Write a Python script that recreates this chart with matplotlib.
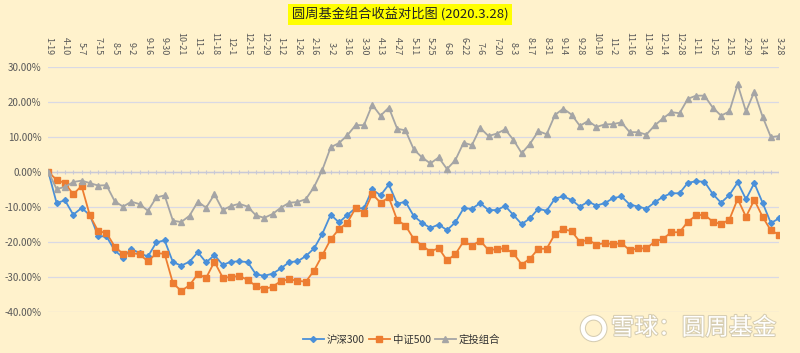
import matplotlib.pyplot as plt
import matplotlib.patheffects as pe
from matplotlib.patches import Ellipse

plt.rcParams['font.family'] = ['Noto Sans CJK SC', 'DejaVu Sans']

# 日期标签 (每两个点标一次)
dates = ['1-19', '4-10', '5-7', '7-15', '8-5', '9-2', '9-16', '9-30', '10-21', '11-3',
         '11-18', '12-1', '12-15', '12-29', '1-12', '1-26', '2-16', '3-2', '3-16', '3-30',
         '4-13', '4-27', '5-11', '5-25', '6-8', '6-22', '7-6', '7-20', '8-3', '8-17',
         '8-31', '9-14', '9-28', '10-19', '11-2', '11-16', '11-30', '12-14', '12-28', '1-11',
         '1-25', '2-15', '2-29', '3-14', '3-28']

# 收益 (%)
hs300 = [0, -8.9, -8.1, -12.2, -10.3, -12.3, -18.3, -18.4, -22.4, -24.4,
         -21.9, -23.2, -24.1, -20.1, -19.5, -25.7, -26.7, -25.6, -22.9, -25.8,
         -23.7, -26.5, -25.6, -25.5, -25.7, -29.2, -29.6, -29.0, -27.5, -25.7,
         -25.5, -24.0, -21.8, -17.6, -12.2, -14.4, -12.3, -10.3, -10.4, -5.0,
         -6.7, -3.6, -9.1, -8.5, -12.6, -14.5, -16.0, -15.0, -16.6, -14.4,
         -10.4, -10.5, -8.9, -10.9, -10.9, -9.7, -12.3, -14.9, -13.2, -10.5,
         -11.1, -7.6, -7.0, -8.0, -9.9, -8.5, -9.6, -8.9, -7.5, -7.0,
         -9.3, -9.9, -10.5, -8.7, -7.1, -6.1, -6.1, -3.1, -2.7, -2.8,
         -6.3, -8.8, -6.6, -3.0, -7.8, -3.2, -8.8, -14.6, -13.2]

zz500 = [0, -2.3, -3.2, -6.4, -4.0, -12.4, -16.9, -17.4, -21.3, -23.4,
         -23.1, -23.5, -25.5, -23.2, -23.3, -31.7, -33.9, -32.3, -29.1, -30.2,
         -25.6, -30.1, -30.0, -29.6, -30.8, -32.5, -33.4, -32.7, -31.1, -30.6,
         -31.0, -31.3, -28.1, -23.7, -19.2, -16.3, -14.5, -10.3, -11.6, -6.3,
         -8.8, -7.3, -13.7, -15.3, -19.1, -21.0, -22.7, -21.7, -25.2, -23.5,
         -19.8, -21.0, -19.6, -22.3, -22.0, -21.8, -23.2, -26.4, -24.7, -21.9,
         -21.9, -17.7, -16.3, -16.9, -19.9, -19.4, -20.7, -20.3, -20.6, -20.3,
         -22.3, -21.8, -21.8, -19.9, -19.1, -17.2, -17.2, -14.2, -12.4, -12.2,
         -14.2, -14.9, -13.6, -7.7, -12.8, -8.0, -12.8, -16.7, -17.9]

dingtou = [0, -4.9, -4.3, -2.9, -2.5, -3.2, -3.9, -3.8, -8.4, -9.9,
           -8.5, -9.2, -11.1, -7.3, -6.7, -13.9, -14.3, -12.5, -8.5, -10.2,
           -6.4, -10.9, -9.7, -9.1, -9.9, -12.4, -13.1, -12.0, -10.2, -8.8,
           -8.6, -7.8, -4.3, 0.6, 7.0, 8.2, 10.4, 13.3, 13.3, 19.1,
           16.0, 18.3, 12.3, 11.8, 6.4, 4.1, 2.4, 4.1, 0.8, 3.3,
           8.3, 7.6, 12.5, 10.2, 10.9, 12.1, 9.1, 5.3, 8.0, 11.6,
           10.7, 16.2, 18.0, 16.3, 13.1, 14.5, 12.8, 13.5, 13.6, 14.1,
           11.3, 11.3, 10.6, 13.2, 15.2, 17.0, 16.7, 20.8, 21.7, 21.7,
           18.3, 16.0, 17.2, 24.9, 17.2, 22.8, 15.7, 9.9, 10.2]

x = list(range(len(hs300)))
bg = '#fff2cc'
grid_c = '#d9d9e4'
txt_c = '#595959'

fig = plt.figure(figsize=(8, 3.53), dpi=100, facecolor=bg)
ax = fig.add_axes([0.0604, 0.1153, 0.9136, 0.6963])
ax.set_facecolor(bg)

ax.plot(x, hs300, color='#4a90d9', lw=1.3, marker='D', ms=3, label='沪深300', zorder=3)
ax.plot(x, zz500, color='#ed7d31', lw=1.3, marker='s', ms=4, label='中证500', zorder=3)
ax.plot(x, dingtou, color='#a5a5a5', lw=1.3, marker='^', ms=4, label='定投组合', zorder=3)

# 坐标轴
ax.set_xlim(0, len(x) - 1)
ax.set_ylim(-40, 30)
ax.set_yticks(range(-40, 31, 10))
ax.set_yticklabels(['%.2f%%' % v for v in range(-40, 31, 10)], fontsize=7, color=txt_c)
ax.yaxis.grid(True, color=grid_c, lw=0.9)
ax.set_axisbelow(True)
ax.tick_params(axis='y', length=0, pad=5)

ax.xaxis.tick_top()
ax.set_xticks(x[::2])
ax.set_xticklabels(dates, rotation=270, fontsize=6.5, color=txt_c, va='bottom')
ax.tick_params(axis='x', length=0, pad=8)

for s in ax.spines.values():
    s.set_visible(False)

# 零轴和刻度
ax.axhline(0, color='#c9c9d6', lw=1, zorder=1)
ax.vlines(x, -0.6, 0.6, color='#c9c9d6', lw=0.8, zorder=1)

# 标题
fig.text(0.5, 0.96, '圆周基金组合收益对比图 (2020.3.28)', ha='center', va='center',
         fontsize=9.5, color='#222222',
         bbox=dict(facecolor='#ffff00', edgecolor='none', pad=2.5))

fig.legend(loc='center', bbox_to_anchor=(0.502, 0.037), ncol=3, frameon=False,
           fontsize=7.5, handlelength=2.0, columnspacing=0.4, handletextpad=0.3,
           labelcolor='#333333')

# 水印
fig.text(0.867, 0.07, '雪球：圆周基金', ha='center', va='center', fontsize=17,
         color='white', path_effects=[pe.withStroke(linewidth=1.5, foreground='#d6cdb2')])
fig.patches.append(Ellipse((0.742, 0.07), 0.027, 0.061, transform=fig.transFigure,
                           facecolor='none', edgecolor='white', lw=3,
                           path_effects=[pe.withStroke(linewidth=4.5, foreground='#d6cdb2')]))

fig.savefig('out.png', dpi=100, facecolor=bg)
